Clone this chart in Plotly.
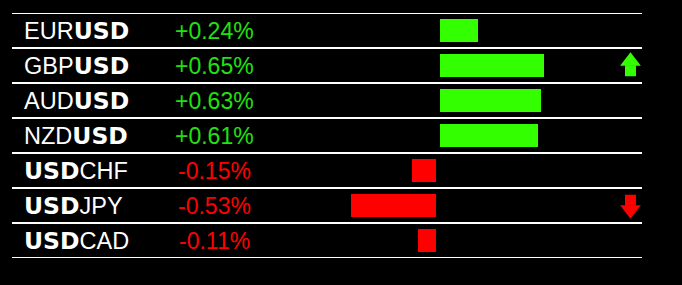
import plotly.graph_objects as go

# ---- data ----
base_ccy = ["EUR", "GBP", "AUD", "NZD", "USD", "USD", "USD"]
quote_ccy = ["USD", "USD", "USD", "USD", "CHF", "JPY", "CAD"]
changes = [0.24, 0.65, 0.63, 0.61, -0.15, -0.53, -0.11]
signals = ["", "up", "", "", "", "down", ""]

GREEN_BAR = "#33FF00"
GREEN_TXT = "#22E011"
RED = "#FF0000"
GAP = 0.025  # visual gap between negative bars and zero

n = len(changes)
rows = list(range(n))

fig = go.Figure()

bar_colors = [GREEN_BAR if v >= 0 else RED for v in changes]
bases = [0 if v >= 0 else -GAP for v in changes]
fig.add_trace(go.Bar(
    x=changes, y=rows, base=bases, orientation="h",
    marker=dict(color=bar_colors, line=dict(width=0)),
    width=0.63, hoverinfo="skip", showlegend=False,
))

# arrows (head + stem markers) on an overlay axis
for i, s in enumerate(signals):
    if not s:
        continue
    col = GREEN_BAR if s == "up" else RED
    if s == "up":
        head_y, stem_y, sym = i - 0.12, i + 0.15, "triangle-up"
    else:
        head_y, stem_y, sym = i + 0.12, i - 0.15, "triangle-down"
    fig.add_trace(go.Scatter(
        x=[0.9817, 0.9817], y=[stem_y, head_y], xaxis="x2", yaxis="y",
        mode="markers",
        marker=dict(symbol=["square", sym], size=[11, 18], color=col,
                    opacity=1, line=dict(width=0)),
        hoverinfo="skip", showlegend=False,
    ))

BOLD = "<span style='font-family:DejaVu Sans'><b>{}</b></span>"
annotations = []
for i in rows:
    b, q = base_ccy[i], quote_ccy[i]
    if b == "USD":
        label = BOLD.format(b) + q
    else:
        label = b + BOLD.format(q)
    annotations.append(dict(
        x=0.0165, y=i, xref="paper", yref="y", text=label, showarrow=False,
        xanchor="left", yanchor="middle",
        font=dict(family="Liberation Sans, Arial", size=23.5, color="white"),
    ))
    v = changes[i]
    annotations.append(dict(
        x=0.3214, y=i, xref="paper", yref="y", text=f"{v:+.2f}%",
        showarrow=False, xanchor="center", yanchor="middle",
        font=dict(family="Liberation Sans, Arial", size=23,
                  color=GREEN_TXT if v >= 0 else RED),
    ))

shapes = []
for k in range(n + 1):
    shapes.append(dict(type="line", xref="paper", yref="y", x0=0, x1=1,
                       y0=k - 0.5, y1=k - 0.5,
                       line=dict(color="white", width=2)))

fig.update_layout(
    width=682, height=285,
    margin=dict(l=12, r=40, t=13, b=27),
    paper_bgcolor="black", plot_bgcolor="black",
    xaxis=dict(range=[-2.675, 1.2625], visible=False, fixedrange=True),
    xaxis2=dict(range=[0, 1], overlaying="x", visible=False, fixedrange=True),
    yaxis=dict(range=[n - 0.5, -0.5], visible=False, fixedrange=True),
    annotations=annotations, shapes=shapes,
    bargap=0,
)

fig.write_html("out.html", config={"displayModeBar": False})
